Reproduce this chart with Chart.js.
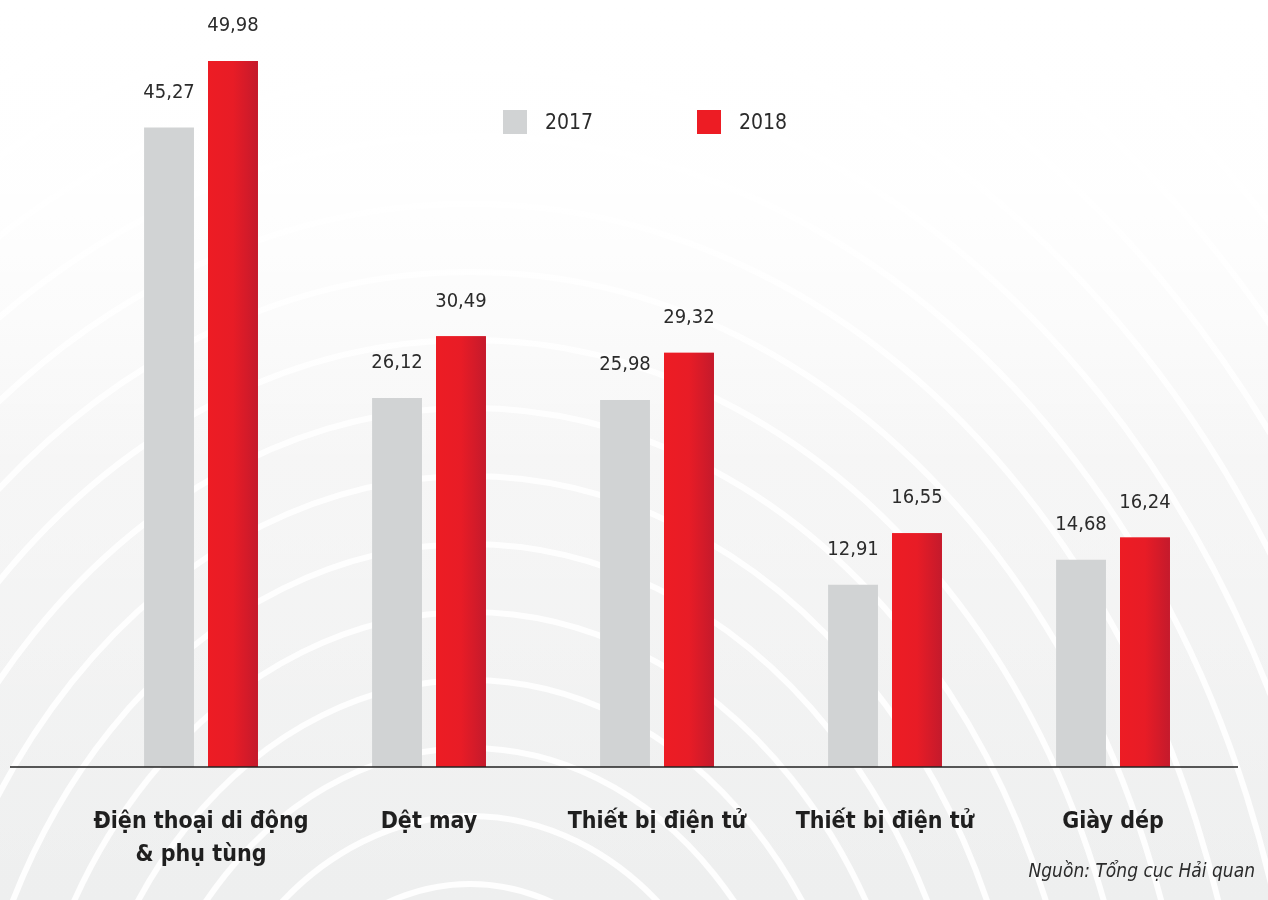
<!DOCTYPE html>
<html lang="vi">
<head>
    <meta charset="UTF-8">
    <title>Xuất khẩu 2017 - 2018</title>
    <script src="https://cdn.jsdelivr.net/npm/chart.js"></script>
    <style>
        html, body {
            margin: 0;
            padding: 0;
            width: 1268px;
            height: 900px;
            overflow: hidden;
            font-family: 'DejaVu Sans Condensed', 'Liberation Sans', sans-serif;
            color: #2b2b2b;
        }
        #bg, #chartWrap {
            position: absolute;
            left: 0;
            top: 0;
            width: 1268px;
            height: 900px;
        }
        .legend {
            position: absolute;
            top: 110px;
            display: flex;
            align-items: center;
            font-size: 21px;
        }
        .legend span.box {
            display: inline-block;
            width: 24px;
            height: 24px;
            margin-right: 18px;
        }
        .source {
            position: absolute;
            right: 13px;
            top: 859px;
            font-size: 19px;
            font-style: italic;
            color: #2b2b2b;
        }
    </style>
</head>
<body>
    <canvas id="bg" width="1268" height="900"></canvas>
    <div id="chartWrap"><canvas id="chart"></canvas></div>
    <div class="legend" style="left:503px"><span class="box" style="background:#d1d3d4"></span>2017</div>
    <div class="legend" style="left:697px"><span class="box" style="background:#ed1c24"></span>2018</div>
    <div class="source">Nguồn: Tổng cục Hải quan</div>

    <script>
        const categories = [
            ['Điện thoại di động', '& phụ tùng'],
            'Dệt may',
            'Thiết bị điện tử',
            'Thiết bị điện tử',
            'Giày dép'
        ];
        const values2017 = [45.27, 26.12, 25.98, 12.91, 14.68];
        const values2018 = [49.98, 30.49, 29.32, 16.55, 16.24];

        const grayColor = '#d1d3d4';
        const redColor = '#ed1c24';

        // background: light grey fade with white rings, washed out towards the top
        (function drawBackground() {
            const c = document.getElementById('bg').getContext('2d');
            const g = c.createLinearGradient(0, 0, 0, 900);
            g.addColorStop(0, '#f7f7f7');
            g.addColorStop(0.5, '#f2f2f2');
            g.addColorStop(1, '#eeefef');
            c.fillStyle = g;
            c.fillRect(0, 0, 1268, 900);
            c.strokeStyle = 'rgba(255,255,255,0.9)';
            c.lineWidth = 6;
            for (let r = 160; r < 1700; r += 68) {
                c.beginPath();
                c.ellipse(470, 1180, r * 0.8, r, 0, 0, Math.PI * 2);
                c.stroke();
            }
            const fade = c.createLinearGradient(0, 0, 0, 900);
            fade.addColorStop(0, 'rgba(255,255,255,1)');
            fade.addColorStop(0.22, 'rgba(255,255,255,0.95)');
            fade.addColorStop(0.5, 'rgba(255,255,255,0.35)');
            fade.addColorStop(1, 'rgba(255,255,255,0)');
            c.fillStyle = fade;
            c.fillRect(0, 0, 1268, 900);
        })();

        const numFmt = v => v.toFixed(2).replace('.', ',');

        const redGradientPlugin = {
            id: 'redGradient',
            afterDatasetDraw(chart, args) {
                if (args.index !== 1) return;
                const ctx = chart.ctx;
                args.meta.data.forEach(bar => {
                    const { x, y, base, width } = bar.getProps(['x', 'y', 'base', 'width'], true);
                    const left = x - width / 2;
                    const grad = ctx.createLinearGradient(left, 0, left + width, 0);
                    grad.addColorStop(0, '#ed1c24');
                    grad.addColorStop(0.5, '#e81c26');
                    grad.addColorStop(1, '#c41a2c');
                    ctx.save();
                    ctx.fillStyle = grad;
                    ctx.fillRect(left, y, width, base - y);
                    ctx.restore();
                });
            }
        };

        const valueLabelPlugin = {
            id: 'valueLabels',
            afterDatasetsDraw(chart) {
                const ctx = chart.ctx;
                ctx.save();
                ctx.font = "20px 'DejaVu Sans Condensed', sans-serif";
                ctx.fillStyle = '#2b2b2b';
                ctx.textAlign = 'center';
                ctx.textBaseline = 'bottom';
                chart.data.datasets.forEach((ds, di) => {
                    chart.getDatasetMeta(di).data.forEach((bar, i) => {
                        ctx.fillText(numFmt(ds.data[i]), bar.x, bar.y - 25);
                    });
                });
                // baseline
                const yb = chart.scales.y.getPixelForValue(0);
                ctx.strokeStyle = '#222';
                ctx.lineWidth = 1.5;
                ctx.beginPath();
                ctx.moveTo(10, yb);
                ctx.lineTo(1238, yb);
                ctx.stroke();
                ctx.restore();
            }
        };

        new Chart(document.getElementById('chart'), {
            type: 'bar',
            data: {
                labels: categories,
                datasets: [
                    { label: '2017', data: values2017, backgroundColor: grayColor },
                    { label: '2018', data: values2018, backgroundColor: redColor }
                ]
            },
            options: {
                responsive: true,
                maintainAspectRatio: false,
                animation: false,
                layout: { padding: { left: 87, right: 41, top: 0, bottom: 0 } },
                datasets: {
                    bar: { categoryPercentage: 0.561, barPercentage: 0.78 }
                },
                plugins: {
                    legend: { display: false },
                    tooltip: { enabled: false }
                },
                scales: {
                    y: {
                        display: false,
                        min: 0,
                        max: 54.3
                    },
                    x: {
                        grid: { display: false, drawTicks: false },
                        border: { display: false },
                        afterFit: scale => { scale.height = 133; },
                        ticks: {
                            padding: 38,
                            autoSkip: false,
                            maxRotation: 0,
                            minRotation: 0,
                            color: '#1f1f1f',
                            font: {
                                family: "'DejaVu Sans Condensed', sans-serif",
                                size: 23,
                                weight: 'bold',
                                lineHeight: 1.45
                            }
                        }
                    }
                }
            },
            plugins: [redGradientPlugin, valueLabelPlugin]
        });
    </script>
</body>
</html>
